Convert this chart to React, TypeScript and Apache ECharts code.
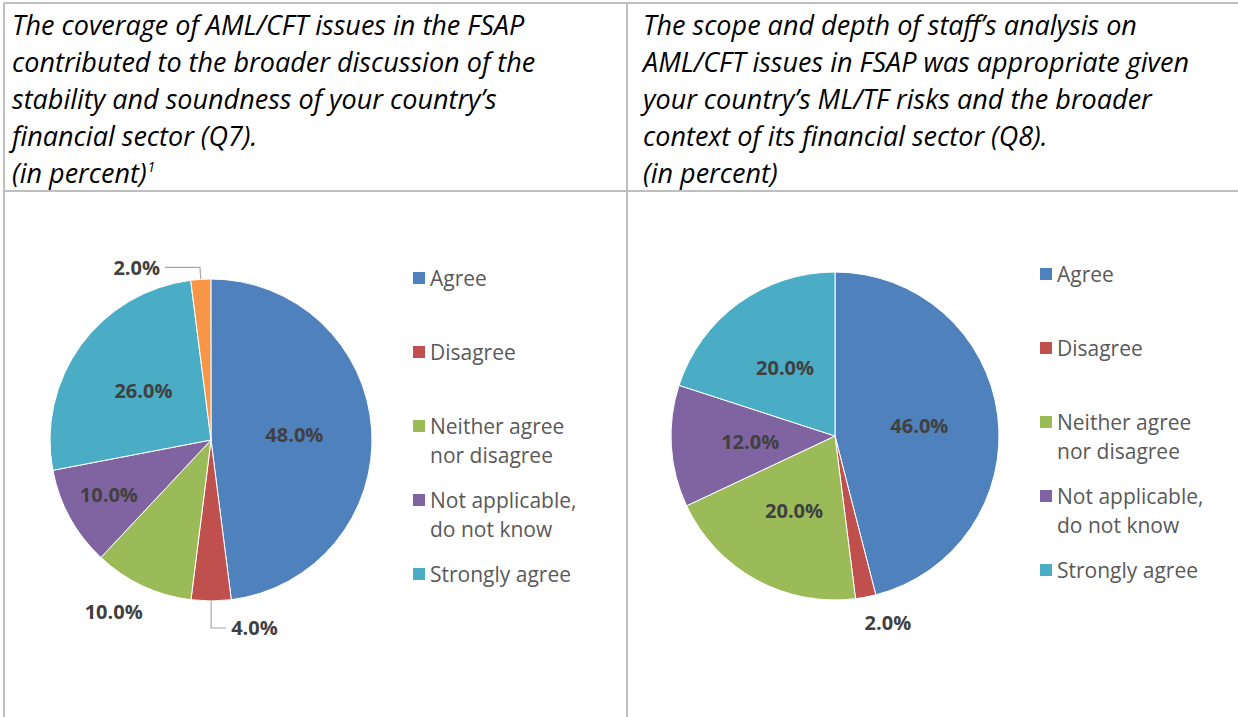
import React, { useEffect, useRef } from "react";
import * as echarts from "echarts";

// ---- data ----
const categories = [
  "Agree",
  "Disagree",
  "Neither agree nor disagree",
  "Not applicable, do not know",
  "Strongly agree",
];
const otherCategory = "Other";
const q7Values = [48, 4, 10, 10, 26, 2];
const q8Values = [46, 2, 20, 12, 20];
const sliceColors = ["#4F81BD", "#C0504D", "#9BBB59", "#8064A2", "#4BACC6", "#F79646"];
const q7TitleLines = [
  "The coverage of AML/CFT issues in the FSAP",
  "contributed to the broader discussion of the",
  "stability and soundness of your country’s",
  "financial sector (Q7).",
  "(in percent){sup|1}",
];
const q8TitleLines = [
  "The scope and depth of staff’s analysis on",
  "AML/CFT issues in FSAP was appropriate given",
  "your country’s ML/TF risks and the broader",
  "context of its financial sector (Q8).",
  "(in percent)",
];
const legendLines: Record<string, string[]> = {
  "Agree": ["Agree"],
  "Disagree": ["Disagree"],
  "Neither agree nor disagree": ["Neither agree", "nor disagree"],
  "Not applicable, do not know": ["Not applicable,", "do not know"],
  "Strongly agree": ["Strongly agree"],
};

const FONT = "'Open Sans', 'Noto Sans', sans-serif";

type Place = { pos: "inside" | "outside"; line?: boolean; len?: number; len2?: number; dist?: number };

const q7Place: Place[] = [
  { pos: "inside" },
  { pos: "outside", line: true, len: 27, len2: 15, dist: 5 },
  { pos: "outside", line: false, len: 28, len2: 0, dist: -12 },
  { pos: "inside" },
  { pos: "inside" },
  { pos: "outside", line: true, len: 12, len2: 35, dist: 5 },
];
const q8Place: Place[] = [
  { pos: "inside" },
  { pos: "outside", line: false, len: 26, len2: 0, dist: -6 },
  { pos: "inside" },
  { pos: "inside" },
  { pos: "inside" },
];

function buildData(names: string[], values: number[], place: Place[]) {
  return values.map((v, i) => {
    const p = place[i];
    return {
      name: names[i],
      value: v,
      itemStyle: { color: sliceColors[i] },
      label: {
        position: p.pos,
        distanceToLabelLine: p.dist ?? 5,
      },
      labelLine: {
        show: !!p.line,
        length: p.len ?? 10,
        length2: p.len2 ?? 10,
      },
    };
  });
}

function pieSeries(center: [number, number], radius: number, startAngle: number, data: any[], layout?: any) {
  return {
    type: "pie",
    center,
    radius,
    startAngle,
    clockwise: true,
    avoidLabelOverlap: false,
    emphasis: { disabled: true },
    itemStyle: { borderColor: "#ffffff", borderWidth: 1 },
    label: {
      show: true,
      fontFamily: FONT,
      fontSize: 20,
      fontWeight: "bold",
      color: "#404040",
      formatter: (p: any) => Number(p.value).toFixed(1) + "%",
    },
    labelLine: { lineStyle: { color: "#a6a6a6", width: 1.2 }, smooth: false },
    labelLayout: layout,
    data,
  };
}

// Each legend entry is three rows (blank, first line, second line or blank),
// so that the square sits beside the first line of text.
function legendFormatter(n: string) {
  const lines = legendLines[n] ?? [n];
  const second = lines[1] ?? " ";
  return `{t| }\n{t|${lines[0]}}\n{t|${second}}`;
}

function legendFor(left: number, top: number) {
  return {
    orient: "vertical",
    left,
    top,
    padding: 0,
    itemGap: -13,
    itemWidth: 12,
    itemHeight: 12,
    icon: "rect",
    selectedMode: false,
    itemStyle: { borderWidth: 0 },
    data: categories,
    formatter: legendFormatter,
    textStyle: {
      fontFamily: FONT,
      fontSize: 21,
      color: "#595959",
      lineHeight: 29,
      rich: {
        t: { fontFamily: FONT, fontSize: 21, color: "#595959", lineHeight: 29 },
      },
    },
  };
}

const titleStyle = {
  fontFamily: FONT,
  fontStyle: "italic",
  fontWeight: "normal",
  fontSize: 27,
  lineHeight: 37,
  color: "#000000",
  rich: {
    sup: {
      fontFamily: FONT,
      fontStyle: "italic",
      fontSize: 14,
      lineHeight: 14,
      verticalAlign: "top",
      padding: [5, 0, 0, 1],
      color: "#000000",
    },
  },
};

const gridColor = "#bfbfbf";

export default function App() {
  const ref = useRef<HTMLDivElement>(null);
  useEffect(() => {
    if (!ref.current) return;
    const chart = echarts.init(ref.current, undefined, { renderer: "svg" });
    const q7Names = [...categories, otherCategory];
    chart.setOption({
      animation: false,
      backgroundColor: "#ffffff",
      title: [
        { text: q7TitleLines.join("\n"), left: 12, top: 6, padding: 0, textStyle: titleStyle },
        { text: q8TitleLines.join("\n"), left: 643, top: 6, padding: 0, textStyle: titleStyle },
      ],
      legend: [legendFor(413, 234.5), legendFor(1040, 230.5)],
      graphic: [
        { type: "line", shape: { x1: 4, y1: 3, x2: 1238, y2: 3 }, style: { stroke: gridColor, lineWidth: 2 } },
        { type: "line", shape: { x1: 4, y1: 3, x2: 4, y2: 717 }, style: { stroke: gridColor, lineWidth: 2 } },
        { type: "line", shape: { x1: 627, y1: 3, x2: 627, y2: 717 }, style: { stroke: gridColor, lineWidth: 2 } },
        { type: "line", shape: { x1: 4, y1: 191, x2: 1238, y2: 191 }, style: { stroke: gridColor, lineWidth: 2 } },
      ],
      series: [
        pieSeries([211, 440], 161, 90.05, buildData(q7Names, q7Values, q7Place), (params: any) =>
          params.dataIndex === 3 ? { dx: -29, dy: 14 } : {}
        ),
        pieSeries([835, 436], 164, 90, buildData(categories, q8Values, q8Place)),
      ],
    });
    return () => chart.dispose();
  }, []);
  return (
    <div
      ref={ref}
      style={{ position: "absolute", left: 0, top: 0, width: 1238, height: 717, background: "#fff" }}
    />
  );
}
